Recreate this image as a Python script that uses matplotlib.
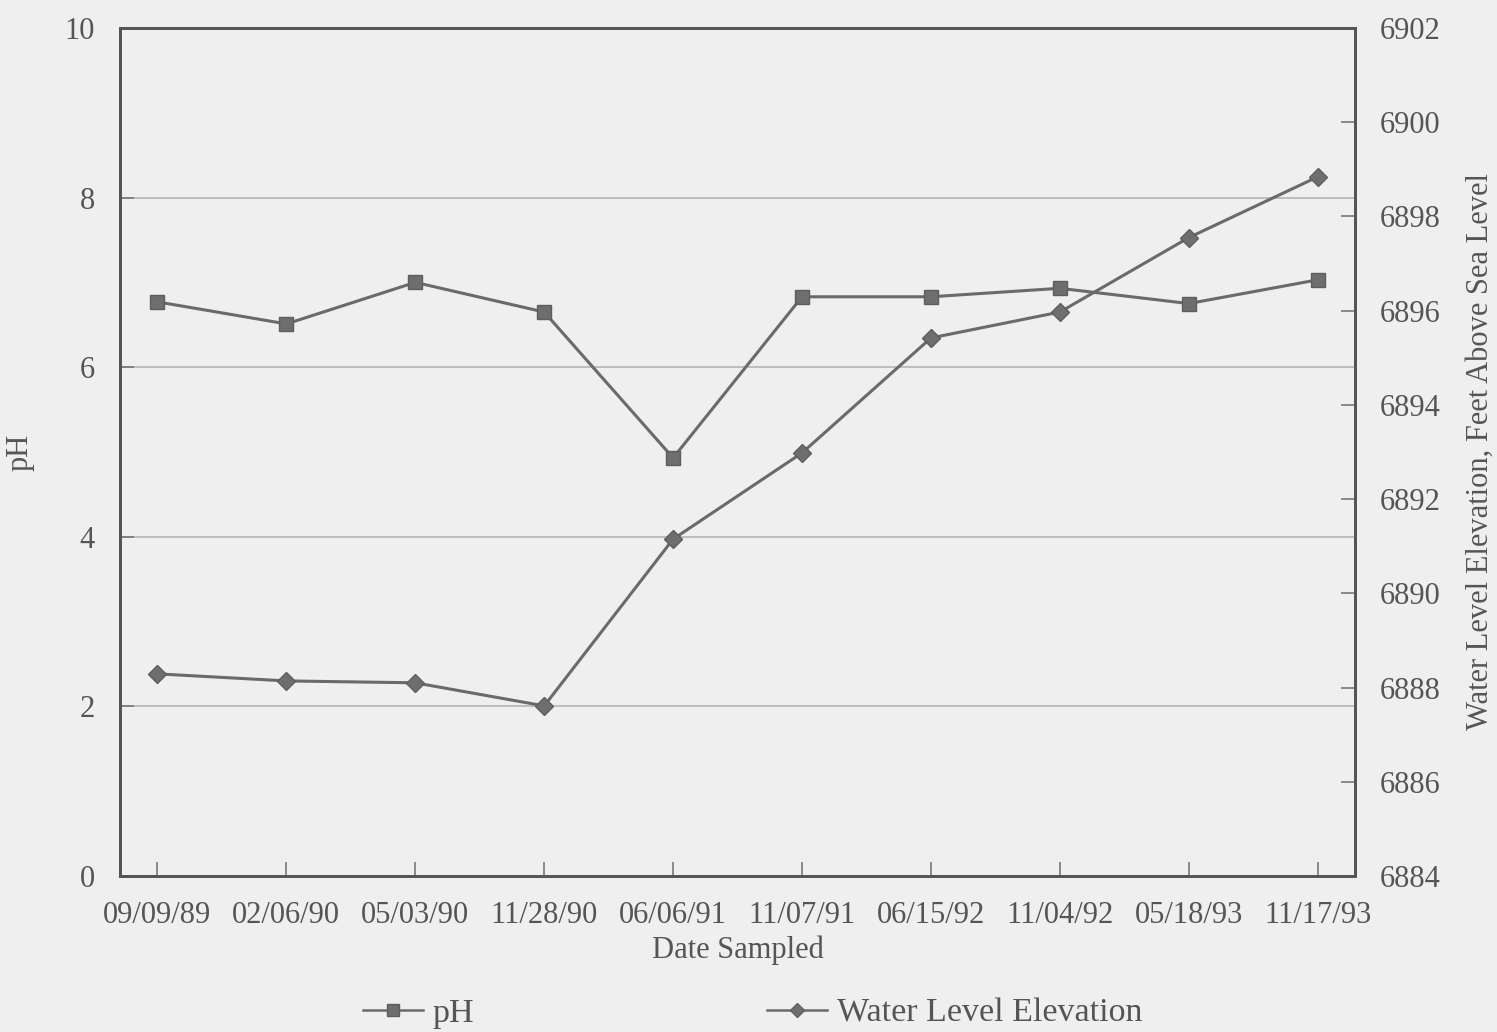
import matplotlib
matplotlib.use("Agg")
import matplotlib.pyplot as plt
from matplotlib.lines import Line2D

dates = ["09/09/89", "02/06/90", "05/03/90", "11/28/90", "06/06/91",
         "11/07/91", "06/15/92", "11/04/92", "05/18/93", "11/17/93"]
ph = [6.77, 6.51, 7.00, 6.65, 4.93, 6.83, 6.83, 6.93, 6.75, 7.03]
water = [6888.29, 6888.14, 6888.10, 6887.61, 6891.15,
         6892.98, 6895.42, 6895.97, 6897.55, 6898.84]
ph_ticks = [0, 2, 4, 6, 8, 10]
wl_ticks = [6884, 6886, 6888, 6890, 6892, 6894, 6896, 6898, 6900, 6902]

bg = "#efefef"
txt = "#555555"
line_c = "#6a6a6a"
plt.rcParams['font.family'] = ['Liberation Serif', 'DejaVu Serif']

fig = plt.figure(figsize=(14.97, 10.32), dpi=100, facecolor=bg)
ax = fig.add_axes([0.0802, 0.1512, 0.825, 0.8217], facecolor=bg)
x = list(range(len(dates)))

ax.set_xlim(-0.29, len(dates) - 1 + 0.29)
ax.set_ylim(0, 10)
ax.set_yticks(ph_ticks)
ax.set_yticklabels([str(t) for t in ph_ticks])
ax.set_xticks(x)
ax.set_xticklabels(dates)
for yv in ph_ticks[1:-1]:
    ax.axhline(yv, color="#b5b5b5", lw=1.2, zorder=1)

ax.plot(x, ph, color=line_c, lw=2.2, marker='s', ms=10, mfc="#6e6e6e",
        mec="#5e5e5e", zorder=3)

ax2 = ax.twinx()
ax2.set_ylim(6884, 6902)
ax2.set_yticks(wl_ticks)
ax2.set_yticklabels([str(t) for t in wl_ticks])
ax2.plot(x, water, color=line_c, lw=2.2, marker='D', ms=9, mfc="#6e6e6e",
         mec="#5e5e5e", zorder=3)

for a in (ax, ax2):
    for s in a.spines.values():
        s.set_color("#555555")
        s.set_linewidth(2.0)
    a.tick_params(direction='in', length=10, width=1.2, colors="#777777",
                  labelcolor=txt, labelsize=22)
ax.tick_params(axis='x', pad=18)
ax.tick_params(axis='y', pad=18)
ax2.tick_params(axis='y', pad=18)

ax.set_xlabel("Date Sampled", fontsize=22, color=txt, labelpad=4)
ax.set_ylabel("pH", fontsize=22, color=txt, labelpad=22)
ax2.set_ylabel("Water Level Elevation, Feet Above Sea Level", fontsize=22,
               color=txt, labelpad=18)

h1 = Line2D([], [], color=line_c, lw=1.8, marker='s', ms=8, mfc="#6e6e6e", mec="#5e5e5e")
h2 = Line2D([], [], color=line_c, lw=1.8, marker='D', ms=7, mfc="#6e6e6e", mec="#5e5e5e")
fig.legend([h1, h2], ["pH", "Water Level Elevation"], ncol=2, frameon=False,
           loc='center', bbox_to_anchor=(0.5027, 0.018), fontsize=24.5,
           labelcolor=txt, columnspacing=8.6, handlelength=1.75, handletextpad=0.3)

fig.savefig("out.png", dpi=100, facecolor=bg)
